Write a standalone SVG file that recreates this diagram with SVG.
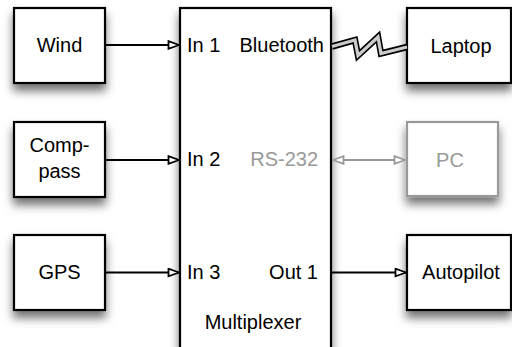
<svg xmlns="http://www.w3.org/2000/svg" width="512" height="347" viewBox="0 0 512 347">
<defs>
<filter id="sh" x="-30%" y="-30%" width="160%" height="170%">
<feDropShadow dx="0" dy="7" stdDeviation="5" flood-color="#000" flood-opacity="0.55"/>
</filter>
<marker id="ah" markerUnits="userSpaceOnUse" markerWidth="13" markerHeight="10" viewBox="0 0 13 10" refX="12" refY="5" orient="auto-start-reverse">
<path d="M1.5,1.2 L12,5 L1.5,8.8 z" fill="#fff" stroke="#000" stroke-width="1.8" stroke-linejoin="miter"/>
</marker>
<marker id="ahg" markerUnits="userSpaceOnUse" markerWidth="13" markerHeight="10" viewBox="0 0 13 10" refX="12" refY="5" orient="auto-start-reverse">
<path d="M1.5,1.2 L12,5 L1.5,8.8 z" fill="#fff" stroke="#999" stroke-width="1.8"/>
</marker>
</defs>
<style>
.box{fill:#fff;stroke:#000;stroke-width:2.2;filter:url(#sh)}
.gbox{fill:#fff;stroke:#999;stroke-width:2.2;filter:url(#sh)}
text{font-family:"Liberation Sans",Arial,Helvetica,sans-serif;font-size:20px;fill:#000}
.g{fill:#999}
.c{text-anchor:middle}
.e{text-anchor:end}
.ln{stroke:#000;stroke-width:2;fill:none}
.lg{stroke:#999;stroke-width:2;fill:none}
.zo{fill:none;stroke:#000;stroke-width:6.5;stroke-linejoin:miter;stroke-miterlimit:10}
.zi{fill:none;stroke:#ccc;stroke-width:3.3;stroke-linejoin:miter;stroke-miterlimit:10}
</style>
<rect width="512" height="347" fill="#fff"/>
<g id="multiplexer">
<rect class="box" x="180" y="8" width="151" height="350"/>
<text x="187" y="52">In 1</text>
<text class="e" x="324" y="52">Bluetooth</text>
<text x="187" y="166">In 2</text>
<text class="e g" x="318" y="166">RS-232</text>
<text x="187" y="279">In 3</text>
<text class="e" x="318" y="279">Out 1</text>
<text class="c" x="253" y="329">Multiplexer</text>
</g>
<g id="wind">
<rect class="box" x="14" y="8" width="91" height="75"/>
<text class="c" x="59.5" y="52">Wind</text>
</g>
<g id="compass">
<rect class="box" x="14" y="122" width="91" height="75"/>
<text class="c" x="59.5" y="152">Comp-</text>
<text class="c" x="59.5" y="178">pass</text>
</g>
<g id="gps">
<rect class="box" x="14" y="235" width="91" height="75"/>
<text class="c" x="59.5" y="279">GPS</text>
</g>
<g id="laptop">
<rect class="box" x="407" y="8" width="104" height="75"/>
<text class="c" x="461" y="53">Laptop</text>
</g>
<g id="pc">
<rect class="gbox" x="407" y="122" width="91" height="74"/>
<text class="c g" x="450" y="167">PC</text>
</g>
<g id="autopilot">
<rect class="box" x="407" y="235" width="104" height="75"/>
<text class="c" x="461" y="279">Autopilot</text>
</g>
<g id="connectors">
<line class="ln" x1="105" y1="45" x2="179" y2="45" marker-end="url(#ah)"/>
<line class="ln" x1="105" y1="160" x2="179" y2="160" marker-end="url(#ah)"/>
<line class="ln" x1="105" y1="272.5" x2="179" y2="272.5" marker-end="url(#ah)"/>
<line class="ln" x1="331" y1="272.5" x2="406" y2="272.5" marker-end="url(#ah)"/>
<line class="lg" x1="333" y1="160" x2="405" y2="160" marker-start="url(#ahg)" marker-end="url(#ahg)"/>
<polyline class="zo" points="332,46.5 355,40 358,55.5 378,37 381,53.5 407,47"/>
<polyline class="zi" points="332,46.5 355,40 358,55.5 378,37 381,53.5 407,47"/>
</g>
</svg>
